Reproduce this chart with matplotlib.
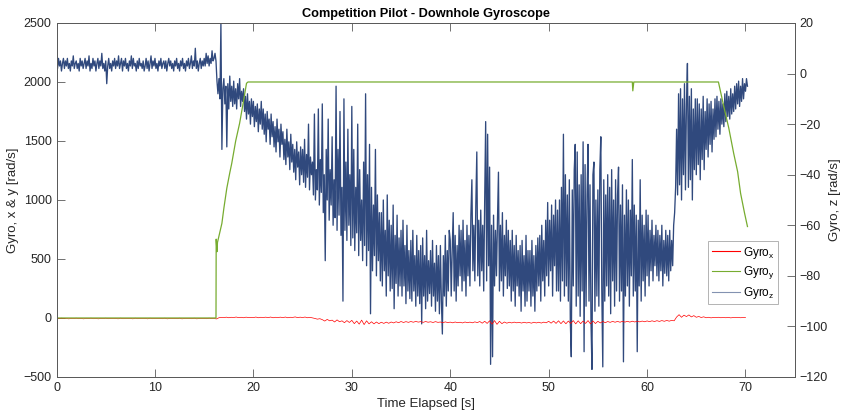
import numpy as np
import matplotlib
matplotlib.use("Agg")
import matplotlib.pyplot as plt
from matplotlib.lines import Line2D

plt.rcParams['font.family'] = ['Liberation Sans', 'DejaVu Sans']
plt.rcParams['mathtext.fontset'] = 'custom'
plt.rcParams['mathtext.rm'] = 'Liberation Sans'

# Gyro z [rad/s], sampled every 0.1 s from t = 0
z_step = 0.1
gyro_z = [
    4, 2, 6, 3, 5, 1, 4, 6, 2, 5,
    3, 6, 2, 4, 1, 5, 3, 7, 2, 4,
    5, 2, 4, 1, 6, 3, 5, 2, 4, 6,
    2, 5, 3, 7, 1, 4, 2, 6, 3, 5,
    1, 4, 6, 2, 5, 3, 8, 2, 4, 1,
    5, -4, 3, 6, 2, 4, 1, 5, 3, 6,
    2, 5, 3, 7, 2, 4, 6, 1, 5, 3,
    6, 2, 4, 1, 5, 3, 7, 2, 6, 3,
    4, 1, 5, 2, 6, 3, 4, 2, 5, 1,
    3, 6, 2, 5, 1, 4, 7, 2, 5, 3,
    6, 2, 4, 1, 5, 3, 6, 2, 4, 5,
    2, 5, 1, 4, 6, 3, 5, 2, 4, 1,
    5, 3, 6, 2, 4, 1, 5, 3, 6, 2,
    4, 1, 5, 3, 6, 2, 4, 7, 2, 5,
    3, 10, 2, 5, 1, 4, 6, 2, 5, 3,
    6, 3, 8, 4, 7, 3, 6, 4, 9, 5,
    6, 8, 5, -3, -8, -2, -10, 20, -30, -6,
    -2, -12, -5, -29, -4, -14, -1, -11, -5, -13,
    -3, -12, -6, -14, -4, -10, -2, -13, -7, -11,
    -6, -15, -9, -18, -8, -16, -11, -20, -10, -17,
    -11, -21, -13, -19, -12, -23, -14, -20, -11, -22,
    -14, -24, -16, -27, -15, -22, -18, -28, -16, -25,
    -19, -29, -21, -31, -18, -27, -22, -33, -20, -28,
    -23, -34, -26, -36, -22, -33, -27, -38, -24, -35,
    -28, -39, -30, -42, -27, -37, -31, -44, -29, -40,
    -30, -43, -26, -45, -32, -41, -20, -46, -33, -40,
    -35, -48, -16, -50, -38, -46, -14, -52, -34, -47,
    -12, -55, -40, -74, -30, -50, -18, -58, -38, -52,
    -25, -60, -42, -57, -5, -62, -30, -56, -15, -64,
    -45, -90, -10, -62, -35, -66, -22, -60, -40, -68,
    -13, -65, -30, -70, -45, -63, -20, -72, -38, -66,
    -50, -74, -35, -68, -8, -76, -40, -70, -28, -95,
    -45, -78, -52, -72, -30, -80, -48, -74, -55, -82,
    -55, -84, -50, -78, -62, -88, -48, -80, -58, -86,
    -60, -85, -52, -93, -64, -83, -56, -88, -65, -84,
    -62, -88, -58, -84, -68, -91, -60, -86, -70, -89,
    -66, -90, -62, -86, -72, -92, -64, -88, -70, -91,
    -68, -99, -65, -88, -72, -93, -62, -90, -74, -87,
    -70, -92, -66, -88, -75, -94, -68, -90, -72, -95,
    -68, -90, -103, -72, -88, -64, -92, -70, -86, -62,
    -66, -88, -70, -55, -86, -64, -90, -68, -84, -60,
    -80, -62, -86, -58, -82, -66, -88, -60, -80, -64,
    -84, -56, -42, -78, -60, -82, -52, -31, -80, -58,
    -84, -54, -78, -60, -86, -50, -19, -82, -24, -76,
    -37, -115, -60, -112, -56, -84, -62, -80, -58, -39,
    -86, -60, -82, -55, -88, -64, -80, -58, -85, -62,
    -84, -66, -90, -62, -86, -68, -92, -64, -84, -70,
    -88, -68, -94, -66, -86, -72, -92, -64, -90, -70,
    -86, -70, -92, -66, -88, -72, -94, -68, -86, -65,
    -84, -64, -90, -60, -82, -66, -88, -58, -80, -51,
    -84, -58, -78, -52, -88, -56, -76, -50, -86, -54,
    -86, -50, -90, -45, -82, -24, -88, -40, -84, -48,
    -90, -42, -98, -112, -46, -84, -38, -28, -92, -31,
    -88, -44, -96, -40, -86, -27, -110, -36, -92, -48,
    -28, -90, -44, -98, -117, -40, -35, -94, -50, -88,
    -46, -92, -38, -25, -86, -116, -42, -90, -48, -84,
    -40, -88, -45, -95, -38, -82, -50, -92, -42, -86,
    -48, -37, -90, -52, -86, -44, -114, -56, -88, -46,
    -84, -50, -92, -54, -80, -34, -88, -52, -86, -56,
    -110, -58, -84, -42, -90, -56, -82, -60, -88, -54,
    -80, -56, -84, -62, -78, -58, -82, -64, -76, -60,
    -80, -62, -82, -64, -78, -60, -84, -66, -79, -62,
    -80, -64, -82, -62, -78, -66, -76, -60, -55, -45,
    -22, -48, -8, -44, -6, -50, -10, -40, -4, -46,
    -12, 4, -45, -9, -42, -6, -50, -14, -38, -10,
    -40, -10, -36, -12, -42, -14, -34, -9, -38, -15,
    -30, -10, -33, -12, -28, -11, -31, -14, -26, -10,
    -25, -9, -22, -11, -24, -10, -20, -12, -21, -8,
    -19, -7, -17, -9, -18, -6, -16, -8, -15, -5,
    -14, -4, -12, -3, -13, -5, -11, -2, -10, -4,
    -7, -2, -5,
]

# Gyro x [rad/s], sampled every 0.25 s from t = 0
x_step = 0.25
gyro_x = [
    -3, -6, -2, -5, -4, -7, -3, -5, -2, -6, -4, -7, -3, -5, -2, -6,
    -4, -7, -3, -5, -2, -6, -4, -5, -3, -7, -2, -6, -4, -5, -3, -7,
    -2, -6, -4, -5, -3, -7, -2, -6, -4, -5, -3, -6, -2, -7, -4, -5,
    -3, -6, -2, -7, -4, -5, -3, -6, -2, -7, -4, -5, -3, -6, -2, -5,
    -4, -8, 2, 5, 3, 7, 2, 6, 4, 8, 3, 6, 2, 7, 4, 5,
    3, 8, 2, 6, 4, 7, 3, 8, 2, 6, 4, 7, 3, 8, 2, 6,
    5, 9, 3, 7, 4, 8, 2, 5, 1, -4, -10, -6, -14, -26, -12, -24,
    -18, -34, -16, -32, -24, -40, -22, -38, -20, -48, -26, -52, -18, -56, -24, -50,
    -32, -50, -34, -48, -36, -46, -35, -45, -34, -42, -32, -40, -30, -38, -31, -37,
    -30, -36, -29, -35, -31, -37, -30, -36, -32, -38, -31, -37, -34, -40, -33, -39,
    -35, -41, -34, -40, -36, -42, -34, -40, -35, -41, -33, -39, -30, -44, -28, -46,
    -24, -52, -22, -54, -28, -48, -34, -44, -36, -42, -35, -41, -37, -43, -36, -42,
    -38, -44, -36, -42, -36, -43, -35, -41, -28, -44, -26, -46, -24, -48, -25, -49,
    -26, -46, -22, -50, -24, -48, -26, -46, -22, -50, -25, -47, -28, -42, -29, -40,
    -30, -37, -29, -36, -29, -36, -28, -35, -28, -35, -27, -34, -27, -33, -26, -32,
    -25, -31, -24, -30, -23, -29, -22, -28, -21, -27, -20, -24, 8, 28, 6, 24,
    12, 26, 9, 20, 6, 13, 4, 10, 2, 6, 1, 5, 3, 6, 2, 5,
    2, 5, 1, 4, 3, 5, 2, 4, 3,
]

# Gyro y [rad/s] breakpoints
y_time = [0, 16.2, 16.22, 16.3, 16.35, 16.8, 17.0, 17.3, 17.6, 17.8, 18.2,
          18.6, 19.0, 19.3, 19.45, 58.5, 58.55, 58.65, 67.25, 67.8, 68.3,
          68.8, 69.2, 69.5, 69.9, 70.2]
gyro_y = [0, 0, 668, 562, 640, 802, 930, 1100, 1230, 1310, 1500,
          1650, 1840, 1989, 2000, 2000, 1925, 2000, 2000, 1790, 1610,
          1395, 1240, 1057, 890, 775]

t_z = z_step * np.arange(len(gyro_z))
t_x = x_step * np.arange(len(gyro_x))

c_x = '#FF0000'
c_y = '#77AC30'
c_z = '#30497D'
axis_col = '#5A5A5A'
text_col = '#262626'

fig = plt.figure(figsize=(8.44, 4.15), dpi=100)
ax1 = fig.add_axes([0.067, 0.0916, 0.8746, 0.853])
ax2 = ax1.twinx()
# keep the x & y traces above the z trace
ax1.set_zorder(ax2.get_zorder() + 1)
ax1.patch.set_visible(False)

ax2.plot(t_z, gyro_z, color=c_z, lw=0.95)
ax1.plot(t_x, gyro_x, color=c_x, lw=0.5)
ax1.plot(y_time, gyro_y, color=c_y, lw=0.9)

ax1.set_xlim(0, 75)
ax1.set_ylim(-500, 2500)
ax2.set_ylim(-120, 20)
ax1.set_xticks(np.arange(0, 71, 10))
ax1.set_yticks(np.arange(-500, 2501, 500))
ax2.set_yticks(np.arange(-120, 21, 20))

for ax in (ax1, ax2):
    for sp in ax.spines.values():
        sp.set_color(axis_col)
        sp.set_linewidth(0.7)
    ax.tick_params(direction='in', length=5.5, width=0.6, color=axis_col,
                   labelcolor=text_col, labelsize=9)
ax1.tick_params(axis='x', top=True)
ax1.tick_params(axis='y', right=False)

ax1.set_xlabel('Time Elapsed [s]', fontsize=9.5, color=text_col, labelpad=3)
ax1.set_ylabel('Gyro, x & y [rad/s]', fontsize=9.5, color=text_col, labelpad=3)
ax2.set_ylabel('Gyro, z [rad/s]', fontsize=9.5, color=text_col, labelpad=1)
ax1.set_title('Competition Pilot - Downhole Gyroscope', fontsize=9.2,
              fontweight='bold', color='black', pad=4)

handles = [Line2D([], [], color=c_x, lw=0.8),
           Line2D([], [], color=c_y, lw=0.8),
           Line2D([], [], color=c_z, lw=0.8, alpha=0.6)]
labels = [r'Gyro$_{\mathrm{x}}$', r'Gyro$_{\mathrm{y}}$', r'Gyro$_{\mathrm{z}}$']
leg = ax1.legend(handles, labels, loc='upper left', bbox_to_anchor=(0.883, 0.384),
                 borderaxespad=0, frameon=True, fancybox=False, fontsize=8.5,
                 handlelength=2.4, handletextpad=0.25, borderpad=0.3,
                 labelspacing=0.3)
leg.get_frame().set_edgecolor('#A0A0A0')
leg.get_frame().set_linewidth(0.7)

fig.savefig('out.png', dpi=100, facecolor='white')
